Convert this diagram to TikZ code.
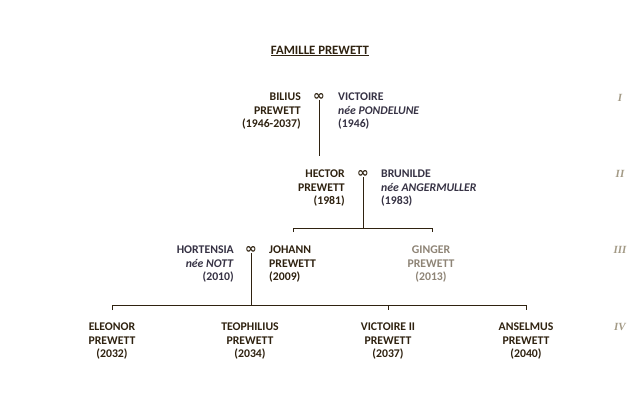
\documentclass[tikz,border=0pt]{standalone}
\usepackage{fontspec}
\setmainfont{Carlito}
\newfontfamily\genfont{Liberation Serif}
\newfontfamily\symfont{DejaVu Sans}
\usepackage{tikz}
\usetikzlibrary{positioning}
\definecolor{brun}{HTML}{2F2210}
\definecolor{ardoise}{HTML}{363244}
\definecolor{pale}{HTML}{8E8476}
\definecolor{beige}{HTML}{A39A86}

\begin{document}
\begin{tikzpicture}[x=1bp, y=-1bp,
  font=\fontsize{11.8}{13.5}\selectfont\bfseries, text=brun,
  pers/.style={inner sep=0pt, anchor=north},
  husband/.style={pers, anchor=north east, align=right},
  wife/.style={pers, anchor=north west, align=left},
  inlaw/.style={text=ardoise},
  kid/.style={pers, align=center},
  wed/.style={inner sep=0pt, font=\symfont\fontsize{14}{14}\selectfont\bfseries},
  gen/.style={inner sep=0pt, text=beige, font=\genfont\fontsize{11}{12}\selectfont\bfseries\itshape},
  lin/.style={draw=brun, line width=1bp}]
\useasboundingbox (0,0) rectangle (640,400);
\node[inner sep=0pt, font=\fontsize{12.8}{14}\selectfont\bfseries] (title) at (320,51) {\underline{FAMILLE PREWETT}};
% generation I
\node[husband] (bilius) at (301,93) {BILIUS\\PREWETT\\(1946-2037)};
\node[wed] (m1) at (319,96.5) {∞};
\node[wife, inlaw] (victoire) at (338,93) {VICTOIRE\\\textit{née PONDELUNE}\\(1946)};
% generation II
\node[husband] (hector) at (345,170) {HECTOR\\PREWETT\\(1981)};
\node[wed] (m2) at (363,173.5) {∞};
\node[wife, inlaw] (brunilde) at (381,170) {BRUNILDE\\\textit{née ANGERMULLER}\\(1983)};
% generation III
\node[husband, inlaw] (hortensia) at (234,246) {HORTENSIA\\\textit{née NOTT}\\(2010)};
\node[wed] (m3) at (251,249.5) {∞};
\node[wife] (johann) at (269,246) {JOHANN\\PREWETT\\(2009)};
\node[kid, text=pale] (ginger) at (431,246) {GINGER\\PREWETT\\(2013)};
% generation IV
\node[kid] (eleonor) at (112,323) {ELEONOR\\PREWETT\\(2032)};
\node[kid] (teophilius) at (250,323) {TEOPHILIUS\\PREWETT\\(2034)};
\node[kid] (victoire2) at (388,323) {VICTOIRE II\\PREWETT\\(2037)};
\node[kid] (anselmus) at (526,323) {ANSELMUS\\PREWETT\\(2040)};
% numerals
\node[gen] (g1) at (620,98) {I};
\node[gen] (g2) at (620,174) {II};
\node[gen] (g3) at (620,250) {III};
\node[gen] (g4) at (620,327) {IV};
% lines
\coordinate (e1) at (319,156);
\coordinate (c2) at (363,228);
\coordinate (t2l) at (293,232);
\coordinate (t2r) at (432,232);
\coordinate (c3) at (251,305);
\draw[lin] (m1.south) -- (e1);
\draw[lin] (m2.south) -- (c2);
\draw[lin] (t2l) -- (t2l |- c2) -- (t2r |- c2) -- (t2r);
\draw[lin] (m3.south) -- (c3);
\draw[lin] (c3 -| eleonor) ++(0,5) -- (c3 -| eleonor) -- (c3 -| anselmus) -- ++(0,5);
\draw[lin] (c3 -| victoire2) -- ++(0,5);
\end{tikzpicture}
\end{document}
